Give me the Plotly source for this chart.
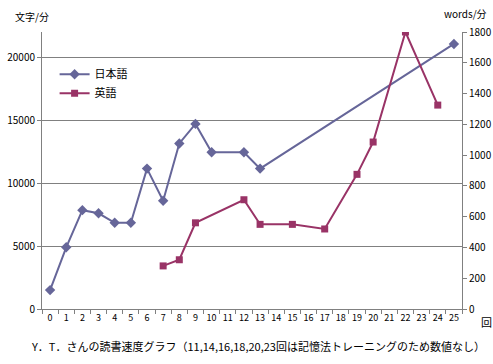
import plotly.graph_objects as go

sessions = [str(i) for i in range(26)]
japanese = [1500, 4900, 7850, 7600, 6850, 6850, 11150, 8600, 13150, 14700, 12450, None,
            12450, 11150, None, None, None, None, None, None, None, None, None, None, None, 21050]
english = [None, None, None, None, None, None, None, 280, 320, 560, None, None,
           710, 550, None, 550, None, 520, None, 875, 1085, None, 1800, None, 1325, None]

FONT = "Noto Sans CJK JP"
GRAY = "#808080"

fig = go.Figure()
fig.add_trace(go.Scatter(
    x=sessions, y=japanese, name="日本語", mode="lines+markers", connectgaps=True,
    line=dict(color="#666699", width=2),
    marker=dict(symbol="diamond", size=8, color="#666699"),
))
fig.add_trace(go.Scatter(
    x=sessions, y=english, name="英語", mode="lines+markers", connectgaps=True, yaxis="y2",
    line=dict(color="#993366", width=2),
    marker=dict(symbol="square", size=7, color="#993366"),
))

fig.update_layout(
    width=493, height=364,
    margin=dict(l=42, r=31, t=32, b=55),
    paper_bgcolor="white", plot_bgcolor="white",
    font=dict(family=FONT, size=10, color="black"),
    showlegend=True,
    legend=dict(x=0.03, y=0.90, xanchor="left", yanchor="top",
                bgcolor="rgba(0,0,0,0)", font=dict(size=11, family=FONT),
                itemwidth=30, tracegroupgap=0),
    xaxis=dict(type="category", categoryorder="array", categoryarray=sessions,
               range=[-0.5, 25.5], showline=True, linecolor=GRAY, linewidth=1,
               ticks="outside", tickson="boundaries", ticklen=4, tickcolor=GRAY,
               showgrid=False, tickfont=dict(size=9), tickangle=0, zeroline=False,
               automargin=False),
    yaxis=dict(range=[0, 22000], dtick=5000, tickformat="d", showline=True, linecolor=GRAY,
               linewidth=1, ticks="outside", ticklen=4, tickcolor=GRAY, showgrid=True,
               gridcolor=GRAY, gridwidth=1, zeroline=False, tickfont=dict(size=10),
               automargin=False),
    yaxis2=dict(range=[0, 1800], dtick=200, tickformat="d", overlaying="y", side="right",
                showline=True, linecolor=GRAY, linewidth=1, ticks="outside", ticklen=4,
                tickcolor=GRAY, showgrid=False, zeroline=False, tickfont=dict(size=10),
                automargin=False),
    annotations=[
        dict(text="文字/分", x=32, y=16, showarrow=False, font=dict(size=10)),
        dict(text="words/分", x=465, y=14, showarrow=False, font=dict(size=10)),
        dict(text="回", x=486, y=322, showarrow=False, font=dict(size=11)),
        dict(text="Y．T．さんの読書速度グラフ（11,14,16,18,20,23回は記憶法トレーニングのため数値なし）",
             x=258, y=346, showarrow=False, font=dict(size=11)),
    ],
)

# convert pixel annotation coordinates to paper coordinates
pw, ph = 493 - 42 - 31, 364 - 32 - 55
new_ann = []
for a in fig.layout.annotations:
    px, py = a.x, a.y
    a.update(xref="paper", yref="paper", x=(px - 42) / pw, y=(364 - 55 - py) / ph,
             xanchor="center", yanchor="middle")
    new_ann.append(a)
fig.layout.annotations = new_ann

fig.write_html("out.html", config={"displayModeBar": False},
               post_script="document.body.style.margin='0';document.body.style.overflow='hidden';")
